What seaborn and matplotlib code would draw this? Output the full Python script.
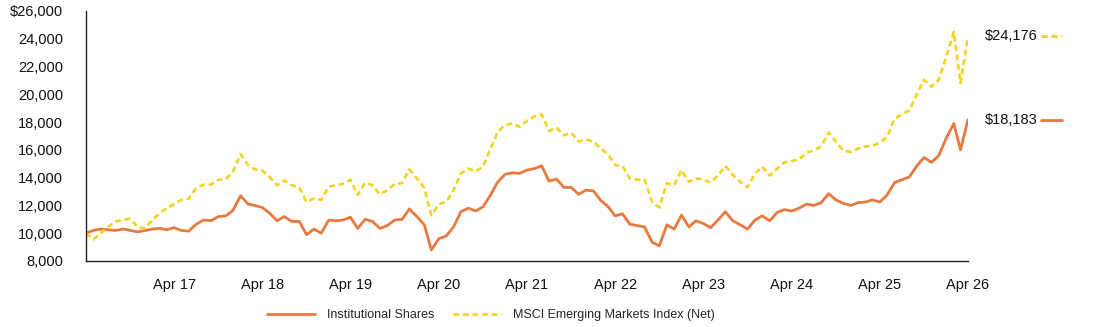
import seaborn as sns
import matplotlib.pyplot as plt
from matplotlib.lines import Line2D
import matplotlib.transforms as mtransforms
import pandas as pd

# monthly growth of $10,000, Apr 2016 - Apr 2026
dates = pd.date_range('2016-04-01', '2026-04-01', freq='MS')

inst_shares = [
    10000, 10200, 10300, 10250, 10200, 10300, 10200, 10100, 10200, 10300, 10350, 10250,
    10400, 10200, 10150, 10650, 10950, 10900, 11200, 11250, 11650, 12700, 12100, 12000,
    11850, 11450, 10900, 11200, 10850, 10850, 9900, 10300, 10000, 10950, 10900, 10950,
    11150, 10350, 11000, 10850, 10350, 10550, 10950, 11000, 11750, 11200, 10600, 8800,
    9600, 9800, 10450, 11550, 11800, 11600, 11900, 12750, 13700, 14250, 14350, 14300,
    14550, 14650, 14850, 13750, 13900, 13300, 13300, 12800, 13100, 13050, 12350, 11950,
    11250, 11400, 10650, 10550, 10450, 9350, 9100, 10600, 10300, 11300, 10450, 10900,
    10700, 10400, 10950, 11550, 10900, 10600, 10300, 10950, 11250, 10900, 11500, 11700,
    11600, 11800, 12100, 12000, 12200, 12850, 12400, 12150, 12000, 12200, 12250, 12400,
    12250, 12750, 13650, 13850, 14050, 14850, 15450, 15100, 15600, 16850, 17900, 16000,
    18183,
]

msci_em = [
    10000, 9550, 10000, 10450, 10850, 10950, 11050, 10450, 10350, 10950, 11450, 11800,
    12100, 12400, 12500, 13250, 13500, 13500, 13850, 13900, 14450, 15700, 14900, 14600,
    14500, 14050, 13450, 13800, 13450, 13300, 12250, 12500, 12400, 13350, 13450, 13550,
    13850, 12750, 13650, 13450, 12800, 13100, 13550, 13600, 14600, 13950, 13250, 11300,
    12100, 12250, 13100, 14300, 14650, 14450, 14800, 16100, 17300, 17800, 17900, 17650,
    18100, 18400, 18550, 17350, 17600, 17050, 17250, 16600, 16750, 16600, 16100, 15700,
    14900, 14850, 13950, 13850, 13850, 12250, 11850, 13600, 13450, 14550, 13700, 13950,
    13850, 13650, 14150, 14850, 14200, 13700, 13300, 14300, 14800, 14150, 14650, 15100,
    15200, 15300, 15800, 15950, 16250, 17250, 16600, 15950, 15850, 16100, 16250, 16300,
    16500, 16950, 18250, 18550, 18850, 20000, 21050, 20550, 21050, 22700, 24500, 20800,
    24176,
]

series_names = ['Institutional Shares', 'MSCI Emerging Markets Index (Net)']
end_labels = ['$18,183', '$24,176']
y_ticks = list(range(8000, 26001, 2000))
y_tick_labels = ['$26,000' if v == 26000 else f'{v:,}' for v in y_ticks]
x_tick_years = list(range(2017, 2027))

orange = '#E8793F'
yellow = '#F5D21E'

df = pd.DataFrame({'date': dates, 'inst': inst_shares, 'msci': msci_em})

sns.set_style('white')
plt.rcParams['font.family'] = ['Liberation Sans', 'DejaVu Sans']

fig = plt.figure(figsize=(10.94, 3.27), dpi=100)
ax = fig.add_axes([86 / 1094, 66 / 327, 882 / 1094, 250 / 327])

sns.lineplot(data=df, x='date', y='inst', ax=ax, color=orange, linewidth=2.0,
             label=series_names[0])
sns.lineplot(data=df, x='date', y='msci', ax=ax, color=yellow, linewidth=1.9,
             label=series_names[1])
ax.lines[1].set_dashes((2.2, 1.4))

ax.set_xlim(dates[0], dates[-1])
ax.set_ylim(8000, 26000)
ax.set_yticks(y_ticks)
ax.set_yticklabels(y_tick_labels)
xt = [pd.Timestamp(f'{y}-04-01') for y in x_tick_years]
ax.set_xticks(xt)
ax.set_xticklabels([f'Apr {str(y)[2:]}' for y in x_tick_years])
ax.set_xlabel('')
ax.set_ylabel('')

for s in ['top', 'right']:
    ax.spines[s].set_visible(False)
for s in ['left', 'bottom']:
    ax.spines[s].set_color('#222222')
    ax.spines[s].set_linewidth(1.0)
ax.tick_params(axis='both', direction='inout', length=7, width=1.0, color='#222222',
               labelsize=10.5, labelcolor='#111111')
ax.tick_params(axis='y', pad=13)
ax.tick_params(axis='x', pad=9)

# end-of-period value labels on the right
trans = mtransforms.blended_transform_factory(ax.transAxes, ax.transData)
for vals, lab, col, dash in [(inst_shares, end_labels[0], orange, None),
                             (msci_em, end_labels[1], yellow, (2.2, 1.4))]:
    ax.text(1.0193, vals[-1], lab, transform=trans, ha='left', va='center',
            fontsize=10.5, color='#111111', clip_on=False)
    ln = Line2D([1.0828, 1.1066], [vals[-1], vals[-1]], transform=trans, color=col,
                linewidth=2.0, clip_on=False)
    if dash:
        ln.set_dashes(dash)
    ax.add_line(ln)

ax.legend_.remove()
handles = [Line2D([], [], color=orange, linewidth=2.0),
           Line2D([], [], color=yellow, linewidth=1.9, dashes=(2.2, 1.4))]
fig.legend(handles, series_names, loc='center', bbox_to_anchor=(491 / 1094, 12 / 327),
           ncol=2, frameon=False, fontsize=9, handlelength=3.8, handletextpad=1.0,
           columnspacing=1.5)

fig.savefig('out.png', dpi=100)
